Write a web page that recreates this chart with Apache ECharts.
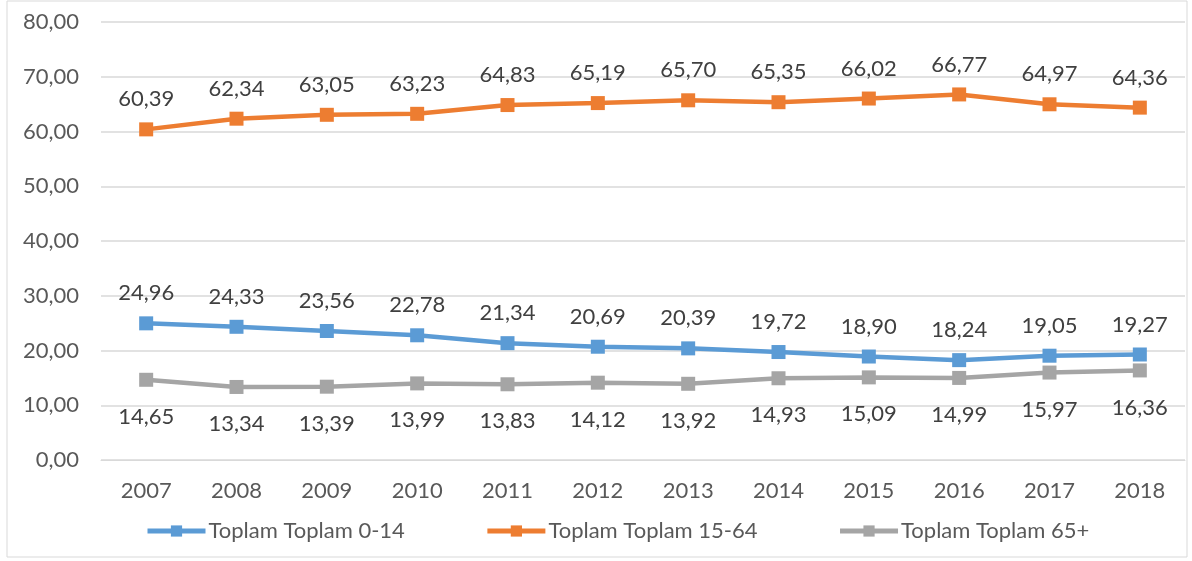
<!DOCTYPE html>
<html>
<head>
<meta charset="utf-8">
<script src="https://cdn.jsdelivr.net/npm/echarts@6/dist/echarts.min.js"></script>
<style>
  html, body { margin: 0; padding: 0; background: #fff; }
  #chart { width: 1192px; height: 561px; }
</style>
</head>
<body>
<div id="chart"></div>
<script>
// years on the x axis
var years = ['2007', '2008', '2009', '2010', '2011', '2012', '2013', '2014', '2015', '2016', '2017', '2018'];
// age groups
var age0_14 = [24.96, 24.33, 23.56, 22.78, 21.34, 20.69, 20.39, 19.72, 18.90, 18.24, 19.05, 19.27];
var age15_64 = [60.39, 62.34, 63.05, 63.23, 64.83, 65.19, 65.70, 65.35, 66.02, 66.77, 64.97, 64.36];
var age65 = [14.65, 13.34, 13.39, 13.99, 13.83, 14.12, 13.92, 14.93, 15.09, 14.99, 15.97, 16.36];
var names = ['Toplam Toplam 0-14', 'Toplam Toplam 15-64', 'Toplam Toplam 65+'];

var fontFam = 'Lato, "Open Sans", sans-serif';

// virgul ile ondalik
function fmt(v) {
    return v.toFixed(2).replace('.', ',');
}

function makeSeries(name, data, color, labelPos, dist) {
    return {
        name: name,
        type: 'line',
        data: data,
        symbol: 'rect',
        symbolSize: 14,
        lineStyle: { width: 4.5, color: color },
        itemStyle: { color: color },
        label: {
            show: true,
            position: labelPos,
            distance: dist,
            color: '#404040',
            fontSize: 22,
            fontFamily: fontFam,
            formatter: function (p) { return fmt(p.value); }
        }
    };
}

var myChart = echarts.init(document.getElementById('chart'));
var option = {
    animation: false,
    backgroundColor: '#fff',
    graphic: [{
        type: 'rect',
        shape: { x: 7, y: 1, width: 1180, height: 556 },
        style: { fill: 'none', stroke: '#d9d9d9', lineWidth: 1 },
        silent: true
    }],
    grid: { left: 101, right: 7, top: 22, bottom: 101 },
    legend: {
        left: 140,
        bottom: 14,
        itemWidth: 58,
        itemHeight: 14,
        itemGap: 80,
        lineStyle: { width: 5 },
        textStyle: { color: '#595959', fontSize: 22, fontFamily: fontFam, padding: [0, 0, 0, -2] },
        data: names
    },
    xAxis: {
        type: 'category',
        data: years,
        boundaryGap: true,
        axisLine: { lineStyle: { color: '#d9d9d9', width: 1 } },
        axisTick: { show: false },
        axisLabel: { color: '#595959', fontSize: 22, fontFamily: fontFam, margin: 20 }
    },
    yAxis: {
        type: 'value',
        min: 0,
        max: 80,
        interval: 10,
        axisLine: { show: false },
        axisTick: { show: false },
        splitLine: { lineStyle: { color: '#d9d9d9', width: 1.5 } },
        axisLabel: {
            color: '#595959', fontSize: 22, fontFamily: fontFam, margin: 22,
            formatter: function (v) { return fmt(v); }
        }
    },
    series: [
        makeSeries(names[0], age0_14, '#5B9BD5', 'top', 12),
        makeSeries(names[1], age15_64, '#ED7D31', 'top', 12),
        makeSeries(names[2], age65, '#A5A5A5', 'bottom', 19)
    ]
};
myChart.setOption(option);
</script>
</body>
</html>
